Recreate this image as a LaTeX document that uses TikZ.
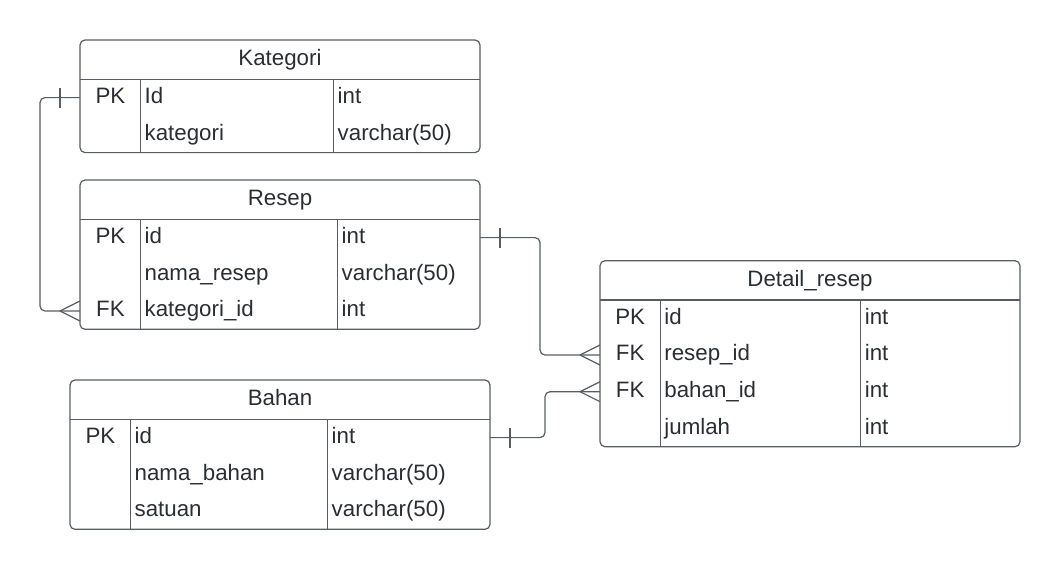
\documentclass[tikz,border=0pt]{standalone}
\usepackage{fontspec}
\setmainfont{Liberation Sans}
\definecolor{ln}{RGB}{88,93,100}
\definecolor{tx}{RGB}{42,46,52}
\tikzset{
  tbl/.style 2 args={draw=ln, line width=1.2pt, rounded corners=5pt, anchor=north west,
    inner sep=0pt, outer sep=0pt, minimum width=#1, minimum height=#2},
  sep/.style={draw=ln, line width=1.2pt},
  txt/.style={text=tx, inner sep=0pt, font=\fontsize{22.3}{25}\selectfont},
  cell/.style={txt, anchor=base west, yshift=1pt},
  ctr/.style={txt, anchor=base, yshift=1pt},
  conn/.style={draw=ln, line width=1.2pt, rounded corners=5pt},
  endmark/.style={draw=ln, line width=1.2pt},
}
\begin{document}
\begin{tikzpicture}[x=1pt,y=-1pt]
\useasboundingbox (0,0) rectangle (1061,571);

% ---------- Kategori ----------
\node[tbl={400pt}{112.6pt}] (kat) at (80,40) {};
\draw[sep] (80,79.3) -- (480,79.3);
\draw[sep] (140.7,79.3) -- (140.7,152.6);
\draw[sep] (333.3,79.3) -- (333.3,152.6);
\node[ctr] (kat-t) at (280,66.7) {Kategori};
\node[ctr] (kat-pk) at (110.4,104.3) {PK};
\node[cell] (kat-f1) at (144.5,104.3) {Id};
\node[cell] (kat-y1) at (337.5,104.3) {int};
\node[cell] (kat-f2) at (144.5,141.0) {kategori};
\node[cell] (kat-y2) at (337.5,141.0) {varchar(50)};

% ---------- Resep ----------
\node[tbl={400pt}{149.3pt}] (res) at (80,180) {};
\draw[sep] (80,219.3) -- (480,219.3);
\draw[sep] (140.7,219.3) -- (140.7,329.3);
\draw[sep] (337.3,219.3) -- (337.3,329.3);
\node[ctr] (res-t) at (280,206.7) {Resep};
\node[ctr] (res-pk) at (110.4,244.3) {PK};
\node[cell] (res-f1) at (144.5,244.3) {id};
\node[cell] (res-y1) at (341.5,244.3) {int};
\node[cell] (res-f2) at (144.5,281.0) {nama\_resep};
\node[cell] (res-y2) at (341.5,281.0) {varchar(50)};
\node[ctr] (res-fk) at (110.4,317.7) {FK};
\node[cell] (res-f3) at (144.5,317.7) {kategori\_id};
\node[cell] (res-y3) at (341.5,317.7) {int};

% ---------- Detail_resep ----------
\node[tbl={420pt}{186pt}] (det) at (600,260.7) {};
\draw[sep] (600,300) -- (1020,300);
\draw[sep] (660.4,300) -- (660.4,446.7);
\draw[sep] (860.4,300) -- (860.4,446.7);
\node[ctr] (det-t) at (810,287.4) {Detail\_resep};
\node[ctr] (det-pk) at (630.2,325.0) {PK};
\node[cell] (det-f1) at (664.2,325.0) {id};
\node[cell] (det-y1) at (864.6,325.0) {int};
\node[ctr] (det-fk1) at (630.2,361.7) {FK};
\node[cell] (det-f2) at (664.2,361.7) {resep\_id};
\node[cell] (det-y2) at (864.6,361.7) {int};
\node[ctr] (det-fk2) at (630.2,398.3) {FK};
\node[cell] (det-f3) at (664.2,398.3) {bahan\_id};
\node[cell] (det-y3) at (864.6,398.3) {int};
\node[cell] (det-f4) at (664.2,435.0) {jumlah};
\node[cell] (det-y4) at (864.6,435.0) {int};

% ---------- Bahan ----------
\node[tbl={420pt}{149.3pt}] (bah) at (70,380) {};
\draw[sep] (70,419.3) -- (490,419.3);
\draw[sep] (130.7,419.3) -- (130.7,529.3);
\draw[sep] (327.3,419.3) -- (327.3,529.3);
\node[ctr] (bah-t) at (280,406.7) {Bahan};
\node[ctr] (bah-pk) at (100.4,444.3) {PK};
\node[cell] (bah-f1) at (134.5,444.3) {id};
\node[cell] (bah-y1) at (331.5,444.3) {int};
\node[cell] (bah-f2) at (134.5,481.0) {nama\_bahan};
\node[cell] (bah-y2) at (331.5,481.0) {varchar(50)};
\node[cell] (bah-f3) at (134.5,517.7) {satuan};
\node[cell] (bah-y3) at (331.5,517.7) {varchar(50)};

% ---------- connector end points ----------
\coordinate (katPK) at (80,97.6);
\coordinate (resFK) at (80,311.0);
\coordinate (resPK) at (480,237.6);
\coordinate (detFK1) at (600,355.0);
\coordinate (bahPK) at (490,437.6);
\coordinate (detFK2) at (600,391.7);

% Kategori -> Resep
\draw[conn] (katPK) -- ++(-40,0) |- (resFK);
\draw[endmark] ([xshift=-20pt,yshift=-10pt]katPK) -- ([xshift=-20pt,yshift=10pt]katPK);
\draw[endmark] ([xshift=-20pt]resFK) -- ([yshift=-10pt]resFK);
\draw[endmark] ([xshift=-20pt]resFK) -- ([yshift=10pt]resFK);

% Resep -> Detail_resep
\draw[conn] (resPK) -- ++(60,0) |- (detFK1);
\draw[endmark] ([xshift=20pt,yshift=-10pt]resPK) -- ([xshift=20pt,yshift=10pt]resPK);
\draw[endmark] ([xshift=-20pt]detFK1) -- ([yshift=-10pt]detFK1);
\draw[endmark] ([xshift=-20pt]detFK1) -- ([yshift=10pt]detFK1);

% Bahan -> Detail_resep
\draw[conn] (bahPK) -- ++(55,0) |- (detFK2);
\draw[endmark] ([xshift=20pt,yshift=-10pt]bahPK) -- ([xshift=20pt,yshift=10pt]bahPK);
\draw[endmark] ([xshift=-20pt]detFK2) -- ([yshift=-10pt]detFK2);
\draw[endmark] ([xshift=-20pt]detFK2) -- ([yshift=10pt]detFK2);
\end{tikzpicture}
\end{document}
